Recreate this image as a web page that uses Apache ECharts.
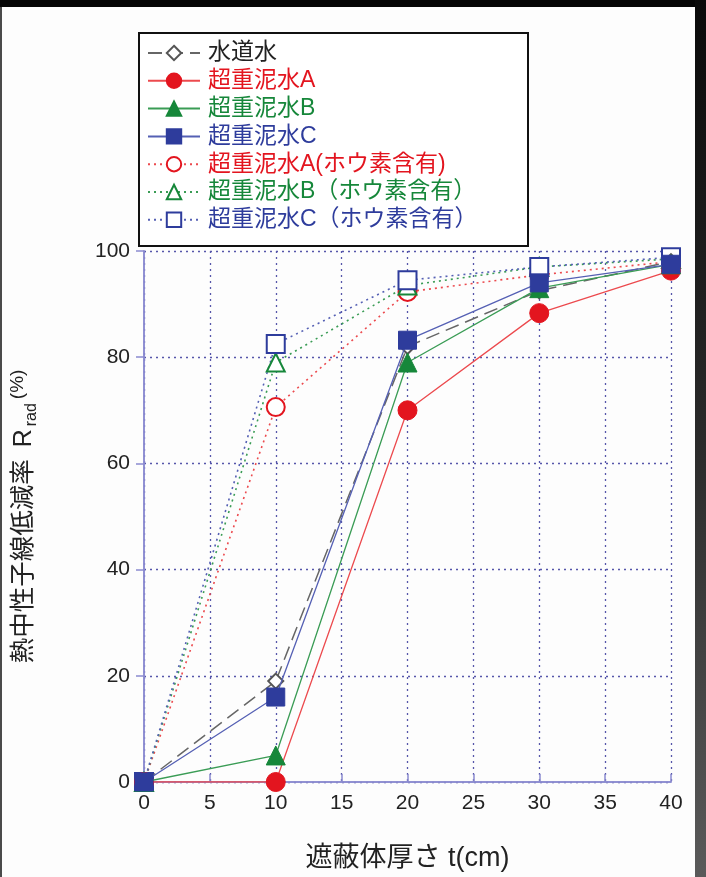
<!DOCTYPE html>
<html>
<head>
<meta charset="utf-8">
<script src="https://cdn.jsdelivr.net/npm/echarts@6/dist/echarts.min.js"></script>
<style>
  html, body { margin: 0; padding: 0; background: #fdfdfd; }
  #chart { width: 706px; height: 877px; }
</style>
</head>
<body>
<div id="chart"></div>
<script>
// Shield thickness t (cm)
const thickness = [0, 10, 20, 30, 40];

// Thermal neutron reduction ratio R_rad (%)
const tapWater = [0, 19, 82, 92.5, 98];
const slurryA = [0, 0, 70, 88.3, 96.3];
const slurryB = [0, 5, 79, 93, 97.5];
const slurryC = [0, 16, 83.2, 94, 97.5];
const slurryABoron = [0, 70.6, 92.3, 95.5, 98];
const slurryBBoron = [0, 79, 93.5, 97, 98.5];
const slurryCBoron = [0, 82.5, 94.5, 97, 98.8];

const seriesNames = [
  '水道水',
  '超重泥水A',
  '超重泥水B',
  '超重泥水C',
  '超重泥水A(ホウ素含有)',
  '超重泥水B（ホウ素含有）',
  '超重泥水C（ホウ素含有）'
];

const xTicks = [0, 5, 10, 15, 20, 25, 30, 35, 40];
const yTicks = [0, 20, 40, 60, 80, 100];

const RED = '#e3151f', RED_LINE = '#ec4a4e';
const GREEN = '#16873a', GREEN_LINE = '#3a9c55';
const BLUE = '#2e3c9c', BLUE_LINE = '#5560b4';
const GRAY = '#555555';
const FONT = "'Liberation Sans', 'Noto Sans CJK JP', sans-serif";

const pairs = arr => thickness.map((t, i) => [t, arr[i]]);

function makeSeries(name, values, opts) {
  return {
    name: name,
    type: 'line',
    data: pairs(values),
    symbol: opts.symbol,
    symbolSize: opts.size,
    showSymbol: true,
    z: opts.z,
    itemStyle: { color: opts.color, borderColor: opts.color, borderWidth: opts.border || 1 },
    lineStyle: { color: opts.lineColor, width: opts.width || 1.3, type: opts.type || 'solid' },
    emphasis: { disabled: true },
    animation: false
  };
}

const chart = echarts.init(document.getElementById('chart'), null, { renderer: 'canvas' });

chart.setOption({
  backgroundColor: '#fdfdfd',
  animation: false,
  textStyle: { fontFamily: FONT },
  graphic: [
    // dark top strip
    { type: 'rect', z: -10, shape: { x: 0, y: 0, width: 706, height: 7 }, style: { fill: '#050505' } },
    // dark right strip
    {
      type: 'rect', z: -10, shape: { x: 695, y: 0, width: 11, height: 877 },
      style: {
        fill: new echarts.graphic.LinearGradient(0, 0, 0, 1, [
          { offset: 0, color: '#0a0a0a' },
          { offset: 0.5, color: '#2a2a2a' },
          { offset: 1, color: '#5a5a5a' }
        ])
      }
    },
    // thin left edge
    { type: 'rect', z: -10, shape: { x: 0, y: 7, width: 2, height: 870 }, style: { fill: '#4a4a4a' } },
    // legend frame
    {
      type: 'rect', z: 50, shape: { x: 139, y: 33, width: 389, height: 213 },
      style: { fill: '#ffffff', stroke: '#111111', lineWidth: 2 }
    }
  ],
  grid: { left: 140, right: 35, top: 251, bottom: 94, containLabel: false },
  legend: {
    orient: 'vertical',
    left: 147,
    top: 41,
    z: 60,
    padding: 0,
    itemWidth: 52,
    itemHeight: 18,
    itemGap: 3.8,
    selectedMode: false,
    textStyle: { fontSize: 23, lineHeight: 24, fontFamily: FONT, padding: [0, 0, 0, 3] },
    data: [
      { name: seriesNames[0], textStyle: { color: '#222222' } },
      { name: seriesNames[1], textStyle: { color: RED } },
      { name: seriesNames[2], textStyle: { color: GREEN } },
      { name: seriesNames[3], textStyle: { color: BLUE } },
      { name: seriesNames[4], textStyle: { color: RED } },
      { name: seriesNames[5], textStyle: { color: GREEN } },
      { name: seriesNames[6], textStyle: { color: BLUE } }
    ]
  },
  xAxis: [
    {
      type: 'value',
      min: xTicks[0],
      max: xTicks[xTicks.length - 1],
      interval: 5,
      position: 'bottom',
      name: '遮蔽体厚さ t(cm)',
      nameLocation: 'middle',
      nameGap: 63,
      nameTextStyle: { fontSize: 27, color: '#222222', fontFamily: FONT },
      axisLine: { show: true, lineStyle: { color: '#8a8ad0', width: 1.5 } },
      axisTick: { show: true, inside: true, length: 8, lineStyle: { color: '#8a8ad0', width: 1.5 } },
      axisLabel: { fontSize: 21, color: '#222222', margin: 11, fontFamily: FONT },
      splitLine: { show: true, lineStyle: { color: '#5656aa', width: 1.3, type: [2, 4] } }
    },
    {
      type: 'value',
      min: xTicks[0],
      max: xTicks[xTicks.length - 1],
      interval: 5,
      position: 'top',
      axisLine: { show: true, lineStyle: { color: '#8a8ad0', width: 1.5 } },
      axisTick: { show: false },
      axisLabel: { show: false },
      splitLine: { show: false }
    }
  ],
  yAxis: [
    {
      type: 'value',
      min: yTicks[0],
      max: yTicks[yTicks.length - 1],
      interval: 20,
      position: 'left',
      name: '{m|熱中性子線低減率}{g| }{r|R}{s|rad}{p|(%)}',
      nameLocation: 'middle',
      nameGap: 104,
      nameTextStyle: {
        color: '#222222',
        fontFamily: FONT,
        rich: {
          m: { fontSize: 25.5, lineHeight: 32, color: '#222222', fontFamily: FONT, verticalAlign: 'middle' },
          g: { fontSize: 25.5, lineHeight: 32, width: 12, fontFamily: FONT },
          r: { fontSize: 25, lineHeight: 32, color: '#222222', fontFamily: FONT, verticalAlign: 'middle' },
          s: { fontSize: 16, lineHeight: 16, color: '#222222', fontFamily: FONT, verticalAlign: 'bottom', padding: [12, 0, 0, 3] },
          p: { fontSize: 19, lineHeight: 19, color: '#222222', fontFamily: FONT, verticalAlign: 'top', padding: [0, 0, 8, 4] }
        }
      },
      axisLine: { show: true, lineStyle: { color: '#8a8ad0', width: 1.5 } },
      axisTick: { show: false },
      axisLabel: { fontSize: 21, color: '#222222', margin: 14, fontFamily: FONT },
      splitLine: { show: true, lineStyle: { color: '#5656aa', width: 1.3, type: [2, 4] } }
    },
    {
      type: 'value',
      min: yTicks[0],
      max: yTicks[yTicks.length - 1],
      interval: 20,
      position: 'right',
      axisLine: { show: true, lineStyle: { color: '#8a8ad0', width: 1.5 } },
      axisTick: { show: true, inside: true, length: 8, lineStyle: { color: '#8a8ad0', width: 1.5 } },
      axisLabel: { show: false },
      splitLine: { show: false }
    }
  ],
  series: [
    makeSeries(seriesNames[0], tapWater, { symbol: 'emptyDiamond', size: 15, color: GRAY, lineColor: '#666666', width: 1.5, type: [14, 7], z: 3 }),
    makeSeries(seriesNames[4], slurryABoron, { symbol: 'emptyCircle', size: 18, color: RED, lineColor: RED_LINE, width: 1.6, type: [2, 4], z: 2 }),
    makeSeries(seriesNames[5], slurryBBoron, { symbol: 'emptyTriangle', size: 18, color: GREEN, lineColor: GREEN_LINE, width: 1.6, type: [2, 4], z: 2 }),
    makeSeries(seriesNames[6], slurryCBoron, { symbol: 'emptyRect', size: 18, color: BLUE, lineColor: BLUE_LINE, width: 1.6, type: [2, 4], z: 2 }),
    makeSeries(seriesNames[1], slurryA, { symbol: 'circle', size: 19, color: RED, lineColor: RED_LINE, z: 4 }),
    makeSeries(seriesNames[2], slurryB, { symbol: 'triangle', size: 19, color: GREEN, lineColor: GREEN_LINE, z: 5 }),
    makeSeries(seriesNames[3], slurryC, { symbol: 'rect', size: 18, color: BLUE, lineColor: BLUE_LINE, z: 6 })
  ]
});
</script>
</body>
</html>
